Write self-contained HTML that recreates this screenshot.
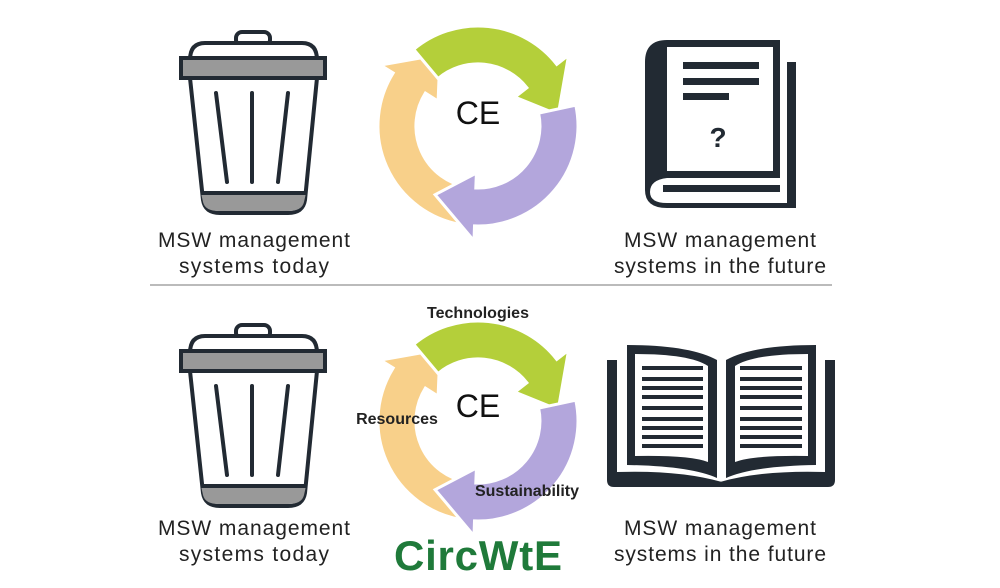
<!DOCTYPE html>
<html><head><meta charset="utf-8"><style>
html,body{margin:0;padding:0;background:#fff;}
svg{display:block;}
text{font-family:"Liberation Sans",sans-serif;}
</style></head><body>
<svg id="s" width="1000" height="588" viewBox="0 0 1000 588" xmlns="http://www.w3.org/2000/svg">
<defs>
<g id="trash">
  <rect x="236" y="32" width="34" height="14" rx="6" fill="#fff" stroke="#222a33" stroke-width="4"/>
  <path d="M190 60 Q190 43 205 43 L302 43 Q317 43 317 60 Z" fill="#fff" stroke="#222a33" stroke-width="4"/>
  <rect x="181" y="58" width="144" height="20" fill="#999" stroke="#222a33" stroke-width="4"/>
  <path d="M190 78 L203 200 Q205 213 220 213 L288 213 Q303 213 305 200 L317 78 Z" fill="#fff" stroke="#222a33" stroke-width="4"/>
  <path d="M201 193 L306 193 L304 202 Q302 211 288 211 L219 211 Q205 211 203 202 Z" fill="#999"/>
  <line x1="201" y1="193" x2="306" y2="193" stroke="#222a33" stroke-width="4"/>
  <g stroke="#222a33" stroke-width="4" stroke-linecap="round">
    <line x1="216" y1="93" x2="227" y2="182"/>
    <line x1="252" y1="93" x2="252" y2="182"/>
    <line x1="288" y1="93" x2="278" y2="182"/>
  </g>
</g>
</defs>
<use href="#trash"/>
<use href="#trash" y="293"/>

<!-- closed book -->
<g fill="#222a33">
  <path d="M667 40 L780 40 L780 178 L667 178 Q650 180 650 192 Q650 203 667 203 L787 203 L787 62 L796 62 L796 208 L667 208 Q645 208 645 190 L645 62 Q645 40 667 40 Z"/>
  <rect x="667" y="40" width="113" height="138" fill="#222a33"/>
  <rect x="667" y="47" width="106" height="124" fill="#fff"/>
  <rect x="683" y="62" width="76" height="7"/>
  <rect x="683" y="78" width="76" height="7"/>
  <rect x="683" y="93" width="46" height="7"/>
  <rect x="663" y="185" width="117" height="7"/>
</g>
<text x="718" y="147" font-size="28" font-weight="bold" text-anchor="middle" fill="#222a33">?</text>

<!-- open book -->
<g fill="#222a33">
  <path d="M607 360 L617 360 L617 472 Q680 470 722 482 L722 487 L614 487 Q607 487 607 480 Z"/>
  <path d="M835 360 L825 360 L825 472 Q762 470 720 482 L720 487 L828 487 Q835 487 835 480 Z"/>
  <path d="M627 345 Q690 345 717 360 L717 478 Q690 466 627 465 Z"/>
  <path d="M816 345 Q753 345 726 360 L726 478 Q753 466 816 465 Z"/>
</g>
<g fill="#fff">
  <path d="M635 354 Q690 354 708 366 L708 462 Q690 455 635 456 Z"/>
  <path d="M808 354 Q753 354 735 366 L735 462 Q753 455 808 456 Z"/>
</g>
<g id="lines" fill="#222a33"></g>

<!-- cycles -->
<g id="cyc1"></g>
<g id="cyc2"></g>

<text x="478" y="124" font-size="32" text-anchor="middle" fill="#111">CE</text>
<text x="478" y="417" font-size="32" text-anchor="middle" fill="#111">CE</text>
<text x="478" y="318" font-size="16" font-weight="bold" text-anchor="middle" fill="#222">Technologies</text>
<text x="397" y="424" font-size="16" font-weight="bold" text-anchor="middle" fill="#222">Resources</text>
<text x="527" y="496" font-size="16" font-weight="bold" text-anchor="middle" fill="#222">Sustainability</text>

<g font-size="21" fill="#222" text-anchor="middle">
<text x="254" y="247" textLength="192">MSW management</text>
<text x="254" y="273" textLength="150">systems today</text>
<text x="720" y="247" textLength="192">MSW management</text>
<text x="720" y="273" textLength="212">systems in the future</text>
<text x="254" y="535" textLength="192">MSW management</text>
<text x="254" y="561" textLength="150">systems today</text>
<text x="720" y="535" textLength="192">MSW management</text>
<text x="720" y="561" textLength="212">systems in the future</text>
</g>
<line x1="150" y1="285" x2="832" y2="285" stroke="#bbb" stroke-width="2"/>
<text x="478" y="570" font-size="42" font-weight="bold" text-anchor="middle" fill="#1f7a3a" textLength="168">CircWtE</text>
</svg>
<script>
(function(){
var ns="http://www.w3.org/2000/svg";
var L=document.getElementById("lines");
var ys=[366,377,386,395,406,417,426,435,444];
ys.forEach(function(y){
 [[642,703],[740,802]].forEach(function(r){
  var e=document.createElementNS(ns,"rect");
  e.setAttribute("x",r[0]);e.setAttribute("y",y);e.setAttribute("width",r[1]-r[0]);e.setAttribute("height",4);
  L.appendChild(e);});
});
function pt(cx,cy,r,a){a=a*Math.PI/180;return (cx+r*Math.cos(a)).toFixed(1)+" "+(cy+r*Math.sin(a)).toFixed(1);}
function arrow(g,cx,cy,a0,a1,a2,col){
 var r1=62,r2=100,rm=81,w=15;
 var d="M"+pt(cx,cy,r2,a0)+" A"+r2+" "+r2+" 0 0 1 "+pt(cx,cy,r2,a1)+
   " L"+pt(cx,cy,r2+w,a1)+" L"+pt(cx,cy,rm,a2)+" L"+pt(cx,cy,r1-w,a1)+
   " L"+pt(cx,cy,r1,a1)+" A"+r1+" "+r1+" 0 0 0 "+pt(cx,cy,r1,a0)+" Z";
 var p=document.createElementNS(ns,"path");
 p.setAttribute("d",d);p.setAttribute("fill",col);p.setAttribute("stroke","#fff");p.setAttribute("stroke-width","3");
 g.appendChild(p);
}
function cyc(id,cx,cy){
 var g=document.getElementById(id);
 arrow(g,cx,cy,100,212,242,"#f8d08a");
 arrow(g,cx,cy,-130,-38,-8,"#b4cf3a");
 arrow(g,cx,cy,-12,92,122,"#b3a6dc");
}
cyc("cyc1",478,126);
cyc("cyc2",478,421);
})();
</script>
</body></html>
